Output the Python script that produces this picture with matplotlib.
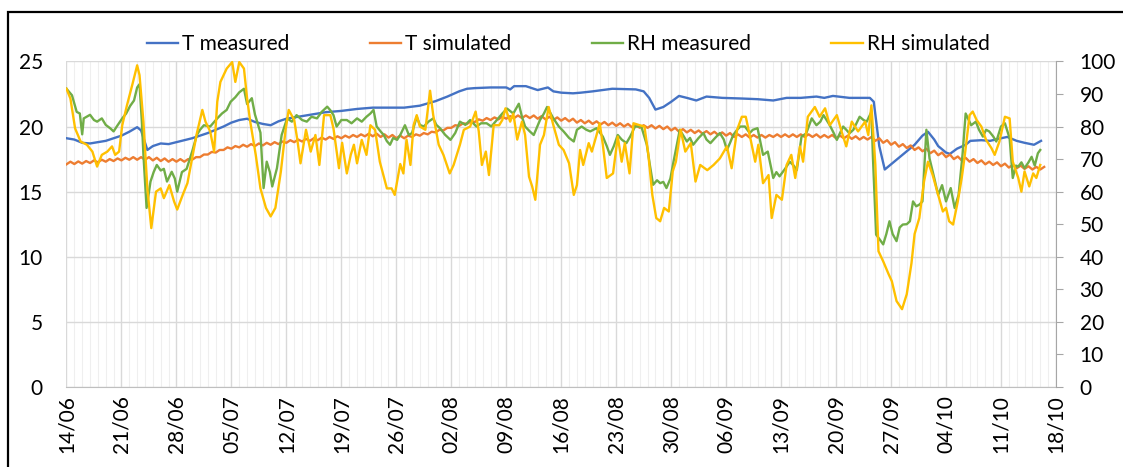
import numpy as np
import pandas as pd
import matplotlib
matplotlib.use("Agg")
import matplotlib.pyplot as plt
import matplotlib.dates as mdates
from matplotlib.patches import Rectangle

# ---- data ----
start = pd.Timestamp("2019-06-14")

# T measured: day offset from 14/06, value in degC
t_meas_day = [0, 1, 2, 3, 4, 5, 6, 7, 8, 9, 9.5, 10.3, 11, 12, 13, 14, 15, 16, 17, 18, 19, 20,
              21, 22, 23, 24, 25, 26, 27, 28, 29, 31, 33, 35, 37, 39, 41, 43, 45, 47, 48.5, 50,
              51, 52, 54, 56, 56.5, 57, 58.5, 60, 61.3, 62, 63, 64.5, 65.5, 67, 69.5, 72.5, 73.5,
              74.2, 75, 76, 77, 78, 79, 80.2, 81.5, 83.5, 86, 88, 90, 91.7, 93.5, 95.5, 96.5,
              97.6, 99.7, 102.3, 102.8, 103.5, 104.2, 105, 106, 107, 108, 109, 109.7, 110.5, 111,
              112, 112.5, 113.4, 114.5, 115.1, 116.5, 117.6, 119, 119.8, 121, 122, 123.2, 124.1]
t_meas = [19.1, 19.0, 18.75, 18.7, 18.8, 18.9, 19.1, 19.3, 19.6, 19.95, 19.7, 18.2, 18.5, 18.7,
          18.65, 18.8, 18.95, 19.1, 19.3, 19.5, 19.75, 20.0, 20.3, 20.5, 20.6, 20.35, 20.2, 20.1,
          20.4, 20.6, 20.7, 20.9, 21.1, 21.2, 21.35, 21.45, 21.45, 21.45, 21.6, 21.95, 22.3, 22.7,
          22.9, 22.95, 23.0, 23.0, 22.85, 23.1, 23.1, 22.8, 23.0, 22.7, 22.6, 22.55, 22.6, 22.7,
          22.9, 22.85, 22.7, 22.2, 21.3, 21.5, 21.9, 22.35, 22.2, 22.0, 22.3, 22.2, 22.15, 22.1,
          22.0, 22.2, 22.2, 22.3, 22.2, 22.35, 22.2, 22.2, 21.9, 18.5, 16.7, 17.1, 17.6, 18.1,
          18.6, 19.3, 19.6, 19.0, 18.5, 18.0, 17.9, 18.3, 18.6, 18.9, 18.95, 18.9, 19.1, 19.2,
          18.9, 18.75, 18.6, 18.9]

# T simulated: one value every half day from 14/06
t_sim = [17.1, 17.3, 17.12, 17.32, 17.15, 17.35, 17.2, 17.4, 17.25, 17.45, 17.3, 17.5, 17.35, 17.55, 17.4, 17.6, 17.45, 17.65, 17.45, 17.65,
         17.45, 17.65, 17.4, 17.6, 17.35, 17.55, 17.3, 17.5, 17.3, 17.5, 17.3, 17.5, 17.45, 17.65, 17.65, 17.85, 17.85, 18.05, 18.0, 18.2,
         18.2, 18.4, 18.3, 18.5, 18.4, 18.6, 18.45, 18.65, 18.5, 18.7, 18.55, 18.75, 18.6, 18.8, 18.65, 18.85, 18.75, 18.95, 18.8, 19.0,
         18.85, 19.05, 18.9, 19.1, 18.95, 19.15, 19.0, 19.2, 19.05, 19.25, 19.1, 19.3, 19.15, 19.35, 19.2, 19.4, 19.25, 19.45, 19.25, 19.45,
         19.2, 19.4, 19.15, 19.35, 19.1, 19.3, 19.1, 19.3, 19.2, 19.4, 19.3, 19.5, 19.4, 19.6, 19.55, 19.75, 19.7, 19.9, 19.9, 20.1,
         20.05, 20.25, 20.2, 20.4, 20.35, 20.55, 20.45, 20.65, 20.5, 20.7, 20.55, 20.75, 20.6, 20.8, 20.65, 20.85, 20.65, 20.85, 20.65, 20.85,
         20.6, 20.8, 20.55, 20.75, 20.5, 20.7, 20.45, 20.65, 20.4, 20.6, 20.3, 20.5, 20.25, 20.45, 20.2, 20.4, 20.15, 20.35, 20.1, 20.3,
         20.05, 20.25, 20.0, 20.2, 19.95, 20.15, 19.9, 20.1, 19.9, 20.1, 19.85, 20.05, 19.8, 20.0, 19.7, 19.9, 19.6, 19.8, 19.55, 19.75,
         19.5, 19.7, 19.45, 19.65, 19.4, 19.6, 19.35, 19.55, 19.3, 19.5, 19.2, 19.4, 19.2, 19.4, 19.15, 19.35, 19.15, 19.35, 19.15, 19.35,
         19.2, 19.4, 19.2, 19.4, 19.2, 19.4, 19.2, 19.4, 19.2, 19.4, 19.2, 19.4, 19.15, 19.35, 19.15, 19.35, 19.1, 19.3, 19.1, 19.3,
         19.05, 19.25, 19.0, 19.2, 19.0, 19.2, 18.9, 19.1, 18.75, 18.95, 18.6, 18.8, 18.45, 18.65, 18.35, 18.55, 18.2, 18.4, 18.1, 18.3,
         17.95, 18.15, 17.8, 18.0, 17.65, 17.85, 17.5, 17.7, 17.4, 17.6, 17.3, 17.5, 17.2, 17.4, 17.1, 17.3, 17.05, 17.25, 16.95, 17.15,
         16.85, 17.05, 16.8, 17.0, 16.75, 16.95, 16.7, 16.9, 16.7, 16.9]

# RH measured: day offset, value in %
rh_meas_day = [0, 0.7, 1.3, 1.7, 2.0, 2.2, 3.0, 3.5, 3.9, 4.5, 5.0, 5.6, 6.0, 6.4, 7.1, 7.6, 8.1, 8.6, 9.0, 9.3,
               9.6, 9.8, 10.2, 10.7, 11.1, 11.5, 12.0, 12.4, 12.8, 13.4, 13.8, 14.1, 14.7, 15.3, 16.0, 16.6, 17.0,
               17.5, 18.3, 19.2, 19.8, 20.4, 20.9, 21.5, 22.0, 22.6, 23.0, 23.6, 24.0, 24.7, 25.1, 25.5, 25.9,
               26.2, 26.8, 27.4, 28.1, 28.7, 29.3, 30.0, 30.6, 31.2, 31.9, 32.5, 33.2, 33.6, 34.0, 34.4, 35.0,
               35.7, 36.3, 37.0, 37.6, 38.2, 38.7, 39.1, 39.5, 40.0, 40.4, 40.8, 41.2, 41.6, 42.1, 42.5, 43.1,
               43.6, 44.0, 44.6, 45.0, 45.5, 46.1, 46.7, 47.1, 47.6, 48.2, 48.9, 49.5, 50.1, 50.8, 51.4, 52.2,
               52.8, 53.5, 54.1, 54.8, 55.5, 56.1, 56.9, 57.6, 58.0, 58.4, 59.0, 59.5, 60.3, 60.8, 61.2, 62.0,
               62.7, 63.3, 64.0, 64.6, 65.0, 65.6, 66.2, 66.7, 67.5, 68.3, 68.8, 69.2, 69.7, 70.2, 70.7, 71.3,
               71.8, 72.4, 73.2, 73.9, 74.3, 74.7, 75.2, 75.6, 76.0, 76.4, 76.9, 77.3, 78.1, 78.6, 79.0, 79.4,
               79.8, 80.5, 81.1, 81.5, 82.0, 82.6, 83.2, 83.7, 84.1, 84.5, 84.9, 85.4, 85.8, 86.4, 87.0, 87.4,
               88.0, 88.7, 89.3, 90.0, 90.4, 90.8, 91.5, 92.1, 92.6, 93.0, 93.6, 94.2, 94.9, 95.5, 96.0, 96.4,
               97.2, 97.7, 98.1, 98.5, 98.9, 99.3, 99.7, 100.2, 100.6, 101.0, 101.5, 101.9, 102.5, 102.7, 103.1,
               103.5, 104.0, 104.4, 104.8, 105.2, 105.7, 106.1, 106.5, 107.0, 107.4, 107.8, 108.2, 108.6, 109.0,
               109.5, 109.9, 110.5, 111.0, 111.5, 112.0, 112.6, 113.1, 113.6, 114.1, 114.5, 115.2, 115.8, 116.2,
               116.7, 117.1, 117.5, 118.0, 118.4, 119.0, 119.5, 120.1, 120.5, 120.9, 121.2, 121.6, 122.0, 122.5,
               122.9, 123.3, 123.7, 124.0]
rh_meas = [91.6, 89.6, 84.5, 84, 77.6, 82.5, 83.6, 82, 81.5, 82.5, 80.5, 79.4, 78.5, 80, 82.5, 84, 86.3, 88, 92, 93,
           81.4, 71.3, 55, 63.1, 66, 68.2, 66.5, 67, 63.1, 66.1, 64, 60, 66, 67, 72.3, 77.4, 79,
           80.4, 80, 82.5, 84, 85.1, 87.6, 89, 90.5, 91.6, 86.9, 88.7, 83.7, 78.1, 61.1, 69.2, 66,
           61.6, 67.2, 77.4, 82.5, 81.5, 83.5, 82, 81.5, 83, 82.5, 84.5, 86.1, 85, 83.5, 80, 82,
           82, 81, 82.5, 81.5, 83, 84, 85.1, 80, 78.5, 77.4, 75.5, 74.4, 76.5, 75.9, 77.4, 80.4,
           77.4, 78, 83, 80.5, 80, 81.5, 82.5, 80.5, 79.4, 77.5, 75.9, 78, 81.5, 80.5, 82, 80,
           81, 81, 80, 82, 84, 85.5, 84, 87, 83, 80, 78.5, 77.4, 82, 84, 86, 82.5,
           80, 78.5, 76.5, 75.4, 79, 80, 79, 78.5, 79.5, 76.9, 74, 71.3, 74, 77.4, 76, 74.9,
           77, 80, 80, 74.4, 68, 62.1, 63.5, 62.6, 63, 61.1, 64, 69.2, 79, 77, 75.4, 76.5,
           74.4, 76.5, 78, 76, 74.9, 76.5, 78, 76, 72.8, 75, 77.4, 79, 80, 80, 78, 79,
           79.5, 71.3, 72.3, 64.2, 66, 64.7, 67, 69.2, 68, 66.6, 76.9, 77.9, 82.5, 80.4, 81.5, 83.5,
           80.4, 78, 75.9, 78, 80, 79, 77.9, 79, 81, 83, 82, 81.5, 84.5, 70.2, 46.8,
           45.5, 43.8, 47, 50.9, 47, 44.8, 49, 49.9, 50, 50.9, 57, 55.5, 56, 57,
           79, 70.2, 64.2, 59, 62, 57, 61.1, 55, 59, 71.3, 84, 80.4, 81.5, 79,
           76.9, 79, 78.5, 77, 75.4, 80, 81, 76.4, 64.2, 68, 67.7, 69, 67.2, 69,
           70.7, 68, 71.8, 72.8]

# RH simulated: day offset, value in %
rh_sim_day = [0, 0.5, 1.1, 1.8, 2.6, 3.3, 3.9, 4.5, 5.2, 5.8, 6.2, 6.7, 7.1, 7.7, 8.4, 9.0, 9.3, 9.8, 10.3,
              10.8, 11.4, 12.0, 12.4, 13.1, 13.7, 14.1, 14.8, 15.4, 16.0, 16.6, 17.3, 17.7, 18.3, 18.8, 19.2,
              19.6, 20.4, 21.1, 21.5, 22.0, 22.6, 23.0, 23.4, 24.1, 24.7, 25.4, 26.0, 26.6, 27.3, 27.9, 28.3,
              29.0, 29.4, 29.8, 30.5, 31.1, 31.7, 32.2, 32.8, 33.6, 34.0, 34.7, 35.1, 35.7, 36.2, 36.6, 37.0,
              37.6, 38.2, 38.7, 39.3, 39.9, 40.8, 41.4, 41.8, 42.5, 42.9, 43.3, 43.8, 44.2, 44.6, 45.0, 45.7,
              46.3, 46.7, 47.4, 48.0, 48.8, 49.3, 50.1, 50.6, 51.4, 52.1, 52.5, 52.9, 53.4, 53.8, 54.4, 55.1,
              55.5, 55.9, 56.5, 56.9, 57.4, 58.0, 58.4, 58.9, 59.3, 59.7, 60.3, 60.8, 61.4, 62.0, 62.7, 63.3,
              64.0, 64.6, 65.0, 65.4, 65.8, 66.5, 66.9, 67.5, 67.9, 68.3, 68.8, 69.6, 70.2, 70.7, 71.1, 71.7,
              72.2, 73.0, 73.6, 74.1, 74.6, 75.1, 75.6, 76.1, 76.7, 77.2, 77.6, 78.2, 78.8, 79.5, 80.1, 80.7,
              81.6, 82.4, 83.2, 84.1, 84.7, 85.4, 86.0, 86.5, 87.0, 87.7, 88.1, 88.7, 89.4, 89.8, 90.4, 91.1,
              91.7, 92.3, 92.8, 93.4, 93.8, 94.4, 95.3, 95.9, 96.6, 97.2, 98.1, 98.7, 99.3, 100.0, 100.8, 101.7,
              102.1, 102.5, 103.0, 103.4, 104.0, 104.7, 105.1, 105.7, 106.4, 107.0, 107.6, 108.0, 108.6, 109.2,
              109.7, 110.3, 111.0, 111.6, 112.0, 112.4, 112.9, 113.5, 114.0, 114.4, 115.0, 115.4, 115.9, 116.5,
              117.1, 117.8, 118.2, 118.8, 119.5, 120.1, 120.5, 121.2, 121.6, 122.0, 122.6, 123.1, 123.5, 124.0]
rh_sim = [91.6, 88.6, 79.4, 75.4, 74.4, 72.3, 67.7, 71.3, 72.3, 73.9, 71.3, 72.3, 80.4, 86.5, 93, 98.8, 95.8, 81.4, 61,
          48.8, 60, 61, 58, 62, 57, 54.5, 59, 62.6, 70.2, 77.9, 85.1, 81.5, 78.5, 72.3, 87.6,
          93.7, 97.8, 99.8, 93.7, 99.8, 97.8, 88.6, 81.5, 71.3, 61, 55, 52.4, 55, 66.2, 79, 85.1,
          82, 75.9, 68.7, 79, 72.3, 77.4, 68.2, 83.5, 83.5, 79.4, 67.2, 75, 65.6, 71.3, 74.4, 68.7,
          75.9, 71.3, 80.4, 79, 69.2, 61, 61, 59, 68.5, 65.6, 76, 68.2, 80.4, 83.5, 80, 79,
          91, 83.5, 74.4, 71.3, 65.6, 68.2, 74.4, 79, 80, 84.6, 78.5, 68.2, 72.3, 65.1, 80.4, 80.4,
          82, 85.6, 81.5, 84, 76, 81.5, 77.4, 64.6, 61.6, 57.5, 74.4, 77.4, 86, 80.4, 74.4, 72.8,
          68.7, 59, 62, 72.8, 68.2, 74.9, 72.3, 77.4, 81, 74.4, 64.2, 65.6, 76.9, 69.2, 74.9, 65.6,
          81, 80.4, 80, 71.3, 59, 51.9, 50.9, 55, 53.9, 66.2, 69.2, 79, 72.3, 74.9, 63.1, 68.2,
          66.6, 68.2, 70.2, 73.9, 67.2, 79, 83, 83, 77.4, 69.2, 74.4, 62.6, 65.1, 51.9, 59, 57.5,
          68.2, 71.3, 64.2, 73.9, 69.2, 83, 86, 83, 85.6, 80.4, 83.5, 78.5, 73.9, 81.5, 78.5, 81.5,
          77.4, 86.5, 68.2, 41.7, 38.6, 34.6, 32.5, 26.4, 23.9, 28.5, 38, 47, 51.9, 63.1,
          69.2, 65.1, 59, 53.9, 55, 50.9, 49.9, 57, 64.2, 71.3, 83.5, 84.6, 82, 80,
          75.9, 73.3, 71.3, 75.4, 83, 82.5, 69.2, 64.2, 60, 66.2, 61.6, 65.6, 64.2, 68.2]

series_names = ["T measured", "T simulated", "RH measured", "RH simulated"]
series_colors = ["#4472C4", "#ED7D31", "#70AD47", "#FFC000"]

t_limits = (0, 25)
rh_limits = (0, 100)
x_end = pd.Timestamp("2019-10-18")

# ---- convert to dates ----
t_meas_x = start + pd.to_timedelta(t_meas_day, unit="D")
t_sim_x = start + pd.to_timedelta(np.arange(len(t_sim)) * 0.5, unit="D")
rh_meas_x = start + pd.to_timedelta(rh_meas_day, unit="D")
rh_sim_x = start + pd.to_timedelta(rh_sim_day, unit="D")

plt.rcParams['font.family'] = ['Lato', 'DejaVu Sans']

fig = plt.figure(figsize=(11.23, 4.67), dpi=100)
ax = fig.add_axes([0.0592, 0.1713, 0.8811, 0.6972])
ax2 = ax.twinx()

lw = 1.7
l1, = ax.plot(t_meas_x, t_meas, color=series_colors[0], lw=lw, label=series_names[0])
l2, = ax.plot(t_sim_x, t_sim, color=series_colors[1], lw=lw, label=series_names[1])
l3, = ax2.plot(rh_meas_x, rh_meas, color=series_colors[2], lw=lw, label=series_names[2])
l4, = ax2.plot(rh_sim_x, rh_sim, color=series_colors[3], lw=lw, label=series_names[3])

ax.set_xlim(start, x_end)
ax.set_ylim(*t_limits)
ax2.set_ylim(*rh_limits)
ax.set_yticks(np.arange(0, 26, 5))
ax2.set_yticks(np.arange(0, 101, 10))

# weekly date labels, daily minor grid
ax.set_xticks(pd.date_range(start, x_end, freq="7D"))
ax.set_xticks(pd.date_range(start, x_end, freq="D"), minor=True)
ax.xaxis.set_major_formatter(mdates.DateFormatter("%d/%m"))
for lab in ax.get_xticklabels():
    lab.set_rotation(90)

ax.grid(True, which="major", color="#d9d9d9", lw=1.0)
ax.grid(True, which="minor", axis="x", color="#efefef", lw=0.8)
ax.set_axisbelow(True)

for sp in ["top", "left", "right"]:
    ax.spines[sp].set_visible(False)
for sp in ["top", "left", "bottom"]:
    ax2.spines[sp].set_visible(False)
ax.spines["bottom"].set_color("#bfbfbf")
ax2.spines["right"].set_color("#a6a6a6")

fs = 15
ax.tick_params(axis="y", length=0, pad=17, labelsize=fs, colors="black")
ax.tick_params(axis="x", which="both", length=0, pad=6, labelsize=fs, colors="black")
ax2.tick_params(axis="y", length=5, pad=12, labelsize=fs, colors="black", color="#a6a6a6")

fig.legend(handles=[l1, l2, l3, l4], loc="center", bbox_to_anchor=(0.506, 0.906), ncol=4,
           frameon=False, fontsize=fs, handlelength=1.5, handletextpad=0.2, columnspacing=3.85)

# outer border of the chart area (cut at the right and bottom in the source)
fig.patches.append(Rectangle((8 / 1123, -0.1), 1.5, 1.1 - 12 / 467, transform=fig.transFigure,
                             fill=False, ec="black", lw=1.6))

fig.savefig("out.png", dpi=100)
